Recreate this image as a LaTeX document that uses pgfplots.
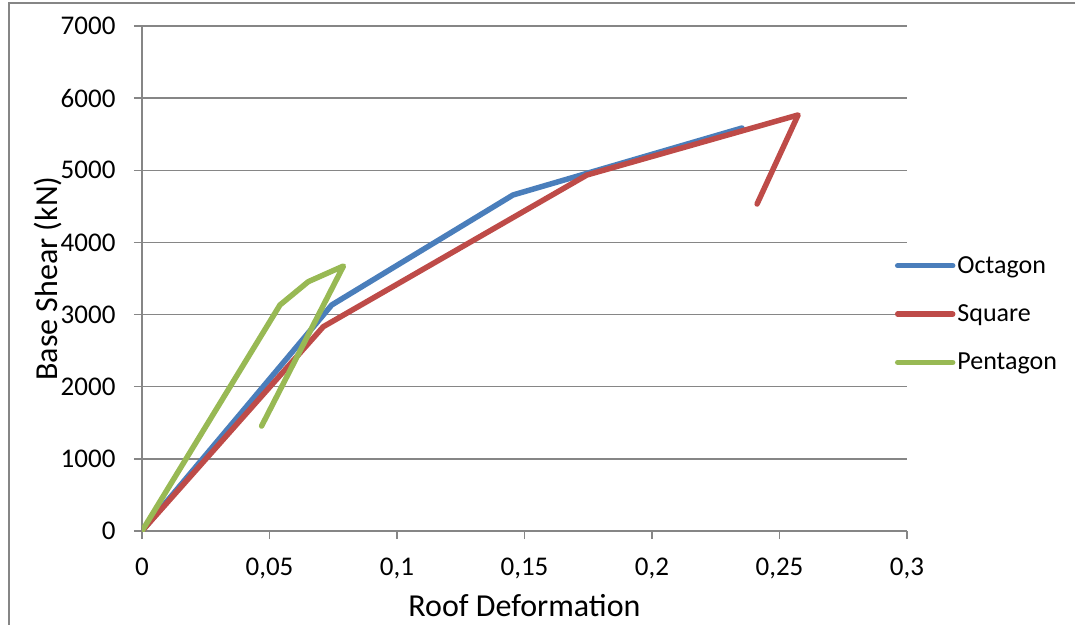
\documentclass[border=0pt]{standalone}
\usepackage{fontspec}
\setmainfont{Carlito}
\usepackage{pgfplots}
\pgfplotsset{compat=1.18}
\usetikzlibrary{calc}
\definecolor{octc}{RGB}{74,126,187}
\definecolor{squc}{RGB}{190,75,72}
\definecolor{penc}{RGB}{152,185,84}
\definecolor{gridc}{RGB}{134,134,134}
\begin{document}
\begin{tikzpicture}[x=1pt,y=1pt]
\useasboundingbox (-142,-93) rectangle (933,531);
\draw[gridc, line width=2pt] (-133,-300) rectangle (1100,528);
\begin{axis}[
  at={(0pt,0pt)}, anchor=south west,
  scale only axis, width=765pt, height=505pt,
  xmin=0, xmax=0.3, ymin=0, ymax=7000,
  axis x line=bottom, axis y line=left,
  axis line style={gridc, line width=1.5pt, -},
  xtick={0,0.05,0.1,0.15,0.2,0.25,0.3},
  ytick={0,1000,2000,3000,4000,5000,6000,7000},
  tick align=outside,
  major tick length=8pt,
  tick style={gridc, line width=1.5pt},
  ymajorgrids, grid style={gridc, line width=1.5pt},
  /pgf/number format/assume math mode=true,
  /pgf/number format/1000 sep={},
  tick label style={font=\fontsize{27}{31}\selectfont, black},
  yticklabel style={xshift=-15pt},
  xticklabel style={/tikz/yshift=-15pt, /pgf/number format/.cd, fixed, use comma, precision=2, 1000 sep={}},
  xlabel={Roof Deformation},
  ylabel={Base Shear (kN)},
  label style={font=\fontsize{32}{38}\selectfont},
  xlabel style={at={($(axis description cs:0.5,0)+(0pt,-85pt)$)}, anchor=base},
  ylabel style={at={($(axis description cs:0,0.5)+(-84pt,0pt)$)}, anchor=base},
  legend style={draw=none, fill=none, at={(axis description cs:0.984,0.4297)}, anchor=west,
    font=\fontsize{26}{30}\selectfont, row sep=30pt, inner sep=0pt,
    nodes={inner xsep=2pt, inner ysep=0pt}},
  legend cell align=left,
  legend image code/.code={\draw[#1, line width=5.5pt] (0pt,0pt) -- (55pt,0pt);},
  every axis plot/.append style={line width=5.5pt, line cap=round, line join=round, mark=none},
]
\addplot[octc] coordinates {(0,0) (0.0744,3133) (0.1455,4658) (0.2353,5586)};
\addlegendentry{Octagon}
\addplot[squc] coordinates {(0,0) (0.0711,2832) (0.1745,4935) (0.2573,5767) (0.2412,4533)};
\addlegendentry{Square}
\addplot[penc] coordinates {(0,0) (0.0541,3133) (0.0652,3456) (0.0790,3673) (0.0469,1455)};
\addlegendentry{Pentagon}
\end{axis}
\end{tikzpicture}
\end{document}
